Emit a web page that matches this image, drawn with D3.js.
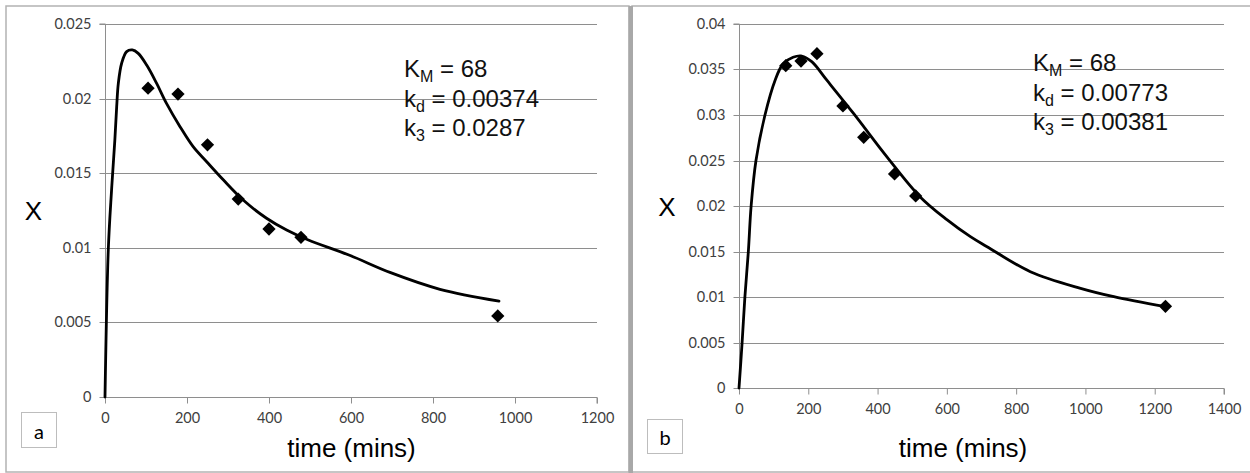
<!DOCTYPE html>
<html>
<head>
<meta charset="utf-8">
<script src="https://cdn.jsdelivr.net/npm/d3@7"></script>
<style>
  html, body { margin: 0; padding: 0; background: #fff; }
  svg { display: block; }
</style>
</head>
<body>
<svg id="chart" width="1250" height="473"></svg>
<script>
// ---------------- DATA ----------------
// Panel a
const aCurveT = [0, 8, 16, 24, 28.5, 32.5, 40.6, 52.8, 66.7, 81, 101.6, 126, 150, 183, 215, 248, 289, 337, 394, 443, 496, 598, 695, 817, 961];
const aCurveX = [0, 0.00985, 0.01387, 0.01722, 0.01946, 0.02102, 0.02237, 0.02315, 0.02326, 0.02303, 0.02225, 0.02102, 0.01968, 0.01812, 0.01678, 0.01577, 0.01454, 0.0132, 0.01198, 0.01119, 0.01052, 0.00948, 0.00835, 0.00722, 0.00643];
const aObsT = [105, 178, 250, 325, 400, 478, 958];
const aObsX = [0.0207, 0.0203, 0.0169, 0.01327, 0.01126, 0.0107, 0.00543];
const aXTicks = [0, 200, 400, 600, 800, 1000, 1200];
const aYTicks = [0, 0.005, 0.01, 0.015, 0.02, 0.025];
const aYLabels = ["0", "0.005", "0.01", "0.015", "0.02", "0.025"];
const aParams = [["K", "M", " = 68"], ["k", "d", " = 0.00374"], ["k", "3", " = 0.0287"]];

// Panel b
const bCurveT = [0, 9, 17, 27, 35, 49, 75, 104, 127, 156, 181, 210, 253, 330, 427, 523, 600, 668, 716, 841, 986, 1082, 1231];
const bCurveX = [0, 0.005, 0.01, 0.015, 0.02, 0.025, 0.03, 0.0338, 0.0356, 0.03634, 0.03648, 0.03586, 0.03385, 0.0302, 0.0254, 0.021, 0.0185, 0.01663, 0.01553, 0.01278, 0.01095, 0.01003, 0.00893];
const bObsT = [135, 179, 225, 300, 360, 449, 510, 1231];
const bObsX = [0.03542, 0.03593, 0.03674, 0.031, 0.02755, 0.02352, 0.0211, 0.00898];
const bXTicks = [0, 200, 400, 600, 800, 1000, 1200, 1400];
const bYTicks = [0, 0.005, 0.01, 0.015, 0.02, 0.025, 0.03, 0.035, 0.04];
const bYLabels = ["0", "0.005", "0.01", "0.015", "0.02", "0.025", "0.03", "0.035", "0.04"];
const bParams = [["K", "M", " = 68"], ["k", "d", " = 0.00773"], ["k", "3", " = 0.00381"]];

const xTitle = "time (mins)";
const yTitle = "X";

// ---------------- DRAWING ----------------
const svg = d3.select("#chart");
const grid = "#8e8e8e";
const tickFont = "Lato, 'Open Sans', sans-serif";
const bigFont = "'Liberation Sans', Arial, sans-serif";

// panel frames
svg.append("rect").attr("x", 6).attr("y", 6).attr("width", 623).attr("height", 466)
  .attr("fill", "none").attr("stroke", "#b3b3b3").attr("stroke-width", 1.5);
svg.append("rect").attr("x", 632).attr("y", 6).attr("width", 640).attr("height", 466)
  .attr("fill", "none").attr("stroke", "#b3b3b3").attr("stroke-width", 1.5);
svg.append("rect").attr("x", 628.5).attr("y", 6).attr("width", 4.5).attr("height", 467)
  .attr("fill", "#a8a8a8");

const panels = [
  { x0: 105, x1: 597, y0: 397, y1: 24, xMax: 1200, yMax: 0.025,
    curveT: aCurveT, curveX: aCurveX, obsT: aObsT, obsX: aObsX,
    xTicks: aXTicks, yTicks: aYTicks, yLabels: aYLabels, params: aParams,
    paramX: 404, paramY: 77, yTitlePos: [33.5, 211], xTitlePos: [351.5, 457],
    box: [21, 412, 35, 35], boxText: "a" },
  { x0: 739, x1: 1224, y0: 388, y1: 24, xMax: 1400, yMax: 0.04,
    curveT: bCurveT, curveX: bCurveX, obsT: bObsT, obsX: bObsX,
    xTicks: bXTicks, yTicks: bYTicks, yLabels: bYLabels, params: bParams,
    paramX: 1033, paramY: 71, yTitlePos: [667, 207], xTitlePos: [963, 457],
    box: [647, 419, 35, 34], boxText: "b" }
];

panels.forEach(p => {
  const x = d3.scaleLinear().domain([0, p.xMax]).range([p.x0, p.x1]);
  const y = d3.scaleLinear().domain([0, p.yMax]).range([p.y0, p.y1]);
  const g = svg.append("g");

  // horizontal gridlines
  g.selectAll("line.grid").data(p.yTicks.filter(v => v > 0)).join("line")
    .attr("x1", p.x0).attr("x2", p.x1)
    .attr("y1", d => Math.round(y(d)) + 0.5).attr("y2", d => Math.round(y(d)) + 0.5)
    .attr("stroke", grid).attr("stroke-width", 1);

  // y axis
  const yAxis = d3.axisLeft(y).tickValues(p.yTicks).tickSize(6)
    .tickFormat((d, i) => p.yLabels[i]);
  const ya = g.append("g").attr("transform", `translate(${p.x0 + 0.5},0)`).call(yAxis);
  ya.select(".domain").attr("stroke", grid).attr("d", `M-6,${p.y1}H0V${p.y0}`);
  ya.selectAll(".tick line").attr("stroke", grid);
  ya.selectAll(".tick text").attr("x", -14).attr("fill", "#404040")
    .style("font-family", tickFont).style("font-size", "14.5px");
  ya.selectAll(".tick").attr("transform", d => `translate(0,${Math.round(y(d)) + 0.5})`);

  // x axis
  const xAxis = d3.axisBottom(x).tickValues(p.xTicks).tickSize(6).tickFormat(d3.format("d"));
  const xa = g.append("g").attr("transform", `translate(0,${p.y0 + 0.5})`).call(xAxis);
  xa.select(".domain").attr("stroke", grid).attr("d", `M${p.x0},0H${p.x1}V6`);
  xa.selectAll(".tick line").attr("stroke", grid);
  xa.selectAll(".tick text").attr("y", 15).attr("fill", "#404040")
    .style("font-family", tickFont).style("font-size", "14.5px");

  // model curve
  const pts = p.curveT.map((t, i) => [t, p.curveX[i]]);
  const line = d3.line().x(d => x(d[0])).y(d => y(d[1])).curve(d3.curveCatmullRom.alpha(0.5));
  g.append("path").datum(pts).attr("d", line)
    .attr("fill", "none").attr("stroke", "#000").attr("stroke-width", 2.8)
    .attr("stroke-linejoin", "round").attr("stroke-linecap", "round");

  // observations (diamonds)
  const sym = d3.symbol().type(d3.symbolSquare).size(88);
  g.selectAll("path.obs").data(p.obsT.map((t, i) => [t, p.obsX[i]])).join("path")
    .attr("class", "obs")
    .attr("d", sym)
    .attr("transform", d => `translate(${x(d[0])},${y(d[1])}) rotate(45)`)
    .attr("fill", "#000");

  // parameter annotation
  const ann = g.append("text").attr("x", p.paramX).attr("y", p.paramY)
    .style("font-family", bigFont).style("font-size", "24px").attr("fill", "#111");
  p.params.forEach((row, i) => {
    ann.append("tspan").attr("x", p.paramX).attr("y", p.paramY + i * 29.5).text(row[0]);
    ann.append("tspan").attr("dy", 5).style("font-size", "16px").text(row[1]);
    ann.append("tspan").attr("dy", -5).text(row[2]);
  });

  // axis titles
  g.append("text").attr("x", p.xTitlePos[0]).attr("y", p.xTitlePos[1])
    .attr("text-anchor", "middle").style("font-family", bigFont).style("font-size", "26px")
    .attr("fill", "#000").text(xTitle);
  g.append("text").attr("x", p.yTitlePos[0]).attr("y", p.yTitlePos[1])
    .attr("text-anchor", "middle").attr("dominant-baseline", "central")
    .style("font-family", bigFont).style("font-size", "26px").attr("fill", "#000").text(yTitle);

  // panel letter box
  g.append("rect").attr("x", p.box[0] + 0.5).attr("y", p.box[1] + 0.5)
    .attr("width", p.box[2]).attr("height", p.box[3])
    .attr("fill", "#fff").attr("stroke", "#bdbdbd").attr("stroke-width", 1);
  g.append("text").attr("x", p.box[0] + p.box[2] / 2 + 0.5).attr("y", p.box[1] + p.box[3] / 2 + 1)
    .attr("text-anchor", "middle").attr("dominant-baseline", "central")
    .style("font-family", tickFont).style("font-size", "20px").attr("fill", "#000").text(p.boxText);
});
</script>
</body>
</html>
